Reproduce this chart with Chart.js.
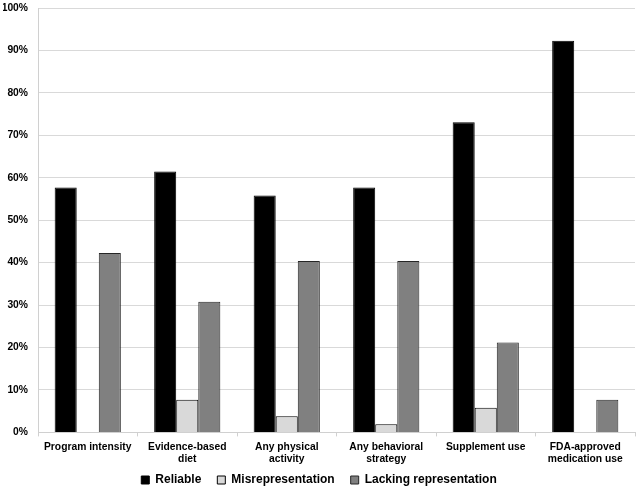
<!DOCTYPE html>
<html><head><meta charset="utf-8">
<script src="https://cdn.jsdelivr.net/npm/chart.js@4"></script>
<style>html,body{margin:0;padding:0;background:#fff}#wrap{width:638px;height:489px}</style>
</head><body><div id="wrap"><canvas id="c" width="638" height="489"></canvas></div>
<script>
const categories = [["Program intensity"], ["Evidence-based","diet"], ["Any physical","activity"], ["Any behavioral","strategy"], ["Supplement use"], ["FDA-approved","medication use"]];
const reliable = [57.7, 61.5, 55.8, 57.7, 73.1, 92.3];
const misrepresentation = [0, 7.7, 3.8, 1.9, 5.8, 0];
const lacking = [42.3, 30.8, 40.4, 40.4, 21.2, 7.7];
const yTicks = [0,10,20,30,40,50,60,70,80,90,100];

const fam = "'Liberation Sans', Arial, sans-serif";
const tickFont = {family: fam, weight: 'bold', size: 10.3, lineHeight: 1.17};

// legend: keep wide horizontal gaps but a tighter vertical box
const LEG_REDUCE = 19.5, LEG_SHIFT = 12.5;
const legendTweak = {
  id: 'legendTweak',
  afterInit(chart) {
    const lg = chart.legend;
    const fit = lg.fit;
    lg.fit = function () { fit.call(this); this.height -= LEG_REDUCE; };
    const draw = lg.draw;
    lg.draw = function (...a) { this.top -= LEG_SHIFT; draw.apply(this, a); this.top += LEG_SHIFT; };
  }
};

const chart = new Chart(document.getElementById('c'), {
  type: 'bar',
  data: {
    labels: categories,
    datasets: [
      {label: 'Reliable', data: reliable, backgroundColor: '#000000', borderColor: '#000000', borderWidth: 1},
      {label: 'Misrepresentation', data: misrepresentation, backgroundColor: '#d9d9d9', borderColor: '#000000', borderWidth: 1},
      {label: 'Lacking representation', data: lacking, backgroundColor: '#808080', borderColor: '#262626', borderWidth: 1}
    ]
  },
  plugins: [legendTweak],
  options: {
    responsive: false,
    animation: false,
    layout: {padding: {left: 3, right: 3, top: 0, bottom: 0}},
    datasets: {bar: {categoryPercentage: 0.665, barPercentage: 1.0}},
    plugins: {
      tooltip: {enabled: false},
      legend: {
        position: 'bottom',
        labels: {color: '#000', font: {family: fam, weight: 'bold', size: 12}, boxWidth: 8, boxHeight: 8, padding: 16}
      }
    },
    scales: {
      x: {
        grid: {display: true, drawOnChartArea: false, offset: true, color: '#d0d0d0', tickLength: 4},
        border: {color: '#d0d0d0'},
        ticks: {color: '#000', font: tickFont, maxRotation: 0, autoSkip: false, padding: 5},
        afterFit: (s) => { s.paddingLeft = 0; s.paddingRight = 0; }
      },
      y: {
        min: 0, max: 100,
        afterBuildTicks: (axis) => { axis.ticks = yTicks.map(v => ({value: v})); },
        afterFit: (s) => { s.width = 35; s.paddingTop = 8; s.paddingBottom = 6; },
        grid: {color: '#d9d9d9', drawTicks: false},
        border: {color: '#d0d0d0'},
        ticks: {color: '#000', font: tickFont, padding: 10, callback: v => v + '%'}
      }
    }
  }
});
chart.update();
</script></body></html>
